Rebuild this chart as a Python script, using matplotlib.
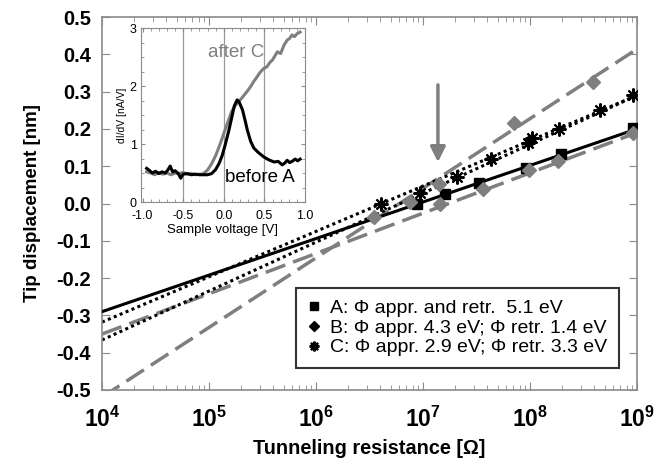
import numpy as np
import matplotlib.pyplot as plt
from matplotlib.lines import Line2D

plt.rcParams['font.family'] = ['Liberation Sans', 'DejaVu Sans']
plt.rcParams['mathtext.fontset'] = 'custom'
plt.rcParams['mathtext.rm'] = 'Liberation Sans:bold'
plt.rcParams['mathtext.it'] = 'Liberation Sans:bold'

# --- main panel data (log10 of resistance, displacement in nm) ---
a_logR = [6.94, 7.21, 7.52, 7.96, 8.29, 8.96]
a_disp = [0.0, 0.025, 0.055, 0.095, 0.133, 0.202]

b_retr_logR = [6.54, 6.88, 7.15, 7.85, 8.59]
b_retr_disp = [-0.036, 0.005, 0.052, 0.216, 0.326]
b_appr_logR = [7.16, 7.56, 7.99, 8.26, 8.96]
b_appr_disp = [0.0, 0.039, 0.09, 0.114, 0.19]

c_logR = [6.61, 6.97, 7.32, 7.64, 7.98, 8.02, 8.27, 8.65, 8.96]
c_disp = [0.0, 0.028, 0.071, 0.12, 0.162, 0.175, 0.2, 0.25, 0.29]

# fit lines, values at R = 1e4 and 1e9
fit_R = [1e4, 1e9]
fit_a = [-0.29, 0.20]
fit_b_retr = [-0.519, 0.414]
fit_b_appr = [-0.35, 0.19]
fit_c_retr = [-0.318, 0.29]
fit_c_appr = [-0.366, 0.29]

x_exponents = [4, 5, 6, 7, 8, 9]
y_ticks = [-0.5, -0.4, -0.3, -0.2, -0.1, 0.0, 0.1, 0.2, 0.3, 0.4, 0.5]

legend_labels = [
    "A: \u03a6 appr. and retr.  5.1 eV",
    "B: \u03a6 appr. 4.3 eV; \u03a6 retr. 1.4 eV",
    "C: \u03a6 appr. 2.9 eV; \u03a6 retr. 3.3 eV",
]

# --- inset data: dI/dV spectra ---
before_V = [-0.95, -0.92, -0.88, -0.84, -0.80, -0.76, -0.72, -0.69, -0.66, -0.63, -0.60,
            -0.56, -0.53, -0.50, -0.45, -0.40, -0.35, -0.30, -0.25, -0.20, -0.15, -0.10,
            -0.06, -0.02, 0.02, 0.06, 0.10, 0.13, 0.165, 0.19, 0.23, 0.26, 0.29, 0.33,
            0.37, 0.42, 0.49, 0.55, 0.62, 0.67, 0.72, 0.75, 0.78, 0.81, 0.84, 0.88, 0.91, 0.94]
before_I = [0.58, 0.55, 0.50, 0.53, 0.49, 0.52, 0.50, 0.55, 0.62, 0.52, 0.54,
            0.49, 0.41, 0.48, 0.49, 0.47, 0.48, 0.47, 0.47, 0.47, 0.49, 0.56,
            0.66, 0.80, 1.00, 1.22, 1.47, 1.66, 1.76, 1.72, 1.59, 1.42, 1.24, 1.05,
            0.93, 0.86, 0.78, 0.73, 0.69, 0.70, 0.64, 0.67, 0.72, 0.68, 0.70, 0.74, 0.71, 0.74]

after_V = [-0.95, -0.90, -0.85, -0.80, -0.75, -0.70, -0.65, -0.60, -0.55, -0.50, -0.45,
           -0.40, -0.35, -0.30, -0.26, -0.20, -0.15, -0.10, -0.05, 0.0, 0.05, 0.10, 0.15,
           0.185, 0.22, 0.26, 0.30, 0.33, 0.37, 0.41, 0.45, 0.49, 0.53, 0.57, 0.60, 0.63,
           0.66, 0.70, 0.74, 0.78, 0.81, 0.84, 0.87, 0.90, 0.94]
after_I = [0.52, 0.50, 0.47, 0.51, 0.48, 0.50, 0.47, 0.50, 0.49, 0.51, 0.48,
           0.49, 0.47, 0.48, 0.48, 0.55, 0.66, 0.80, 0.98, 1.18, 1.38, 1.57, 1.68,
           1.73, 1.79, 1.86, 1.93, 1.99, 2.08, 2.16, 2.24, 2.30, 2.33, 2.41, 2.45, 2.52,
           2.59, 2.56, 2.70, 2.79, 2.82, 2.88, 2.85, 2.90, 2.93]

arrow_R = 1.38e7
arrow_from = 0.318
arrow_to = 0.111

GRAY = "#7f7f7f"
SPINE = "#8a8a8a"

fig = plt.figure(figsize=(6.7, 4.66), dpi=100)
ax = fig.add_axes([0.1522, 0.1631, 0.7985, 0.8004])

dash = (0, (6, 2.4))
dot = (0, (1, 1.1))

ax.plot(fit_R, fit_a, color="black", lw=2.2, zorder=3)
ax.plot(fit_R, fit_b_retr, color=GRAY, lw=2.5, linestyle=dash, zorder=2)
ax.plot(fit_R, fit_b_appr, color=GRAY, lw=2.5, linestyle=dash, zorder=2)
ax.plot(fit_R, fit_c_retr, color="black", lw=2.2, linestyle=dot, zorder=2)
ax.plot(fit_R, fit_c_appr, color="black", lw=2.2, linestyle=dot, zorder=2)

ax.plot(10 ** np.array(a_logR), a_disp, "s", color="black", ms=7, zorder=4)
ax.plot(10 ** np.array(b_retr_logR), b_retr_disp, "D", color=GRAY, ms=7, zorder=4)
ax.plot(10 ** np.array(b_appr_logR), b_appr_disp, "D", color=GRAY, ms=7, zorder=4)
ax.plot(10 ** np.array(c_logR), c_disp, marker=(8, 2, 0), ls="none", color="black",
        ms=10, mew=1.5, zorder=4)

ax.annotate("", xy=(arrow_R, arrow_to), xytext=(arrow_R, arrow_from),
            arrowprops=dict(arrowstyle="-|>,head_length=0.9,head_width=0.45",
                            color=GRAY, lw=2.5, shrinkA=0, shrinkB=0))

ax.set_xscale("log")
ax.set_xlim(1e4, 1e9)
ax.set_ylim(-0.5, 0.5)
ax.set_yticks(y_ticks)
ax.set_yticklabels([f"{v:.1f}" for v in y_ticks], fontweight="bold")
ax.set_xticks([10.0 ** e for e in x_exponents])
ax.set_xticklabels([rf"$10^{{{e}}}$" for e in x_exponents])
ax.tick_params(which="both", direction="in", top=True, right=True, color=SPINE)
ax.tick_params(which="major", length=6)
ax.tick_params(which="minor", length=3.5)
ax.tick_params(axis="y", labelsize=14.5, pad=8)
ax.tick_params(axis="x", labelsize=16.5, pad=12)
for s in ax.spines.values():
    s.set_color(SPINE)
    s.set_linewidth(1.2)

ax.set_xlabel("Tunneling resistance [\u03a9]", fontsize=14.3, fontweight="bold", labelpad=5)
ax.set_ylabel("Tip displacement [nm]", fontsize=13.5, fontweight="bold", labelpad=11)

handles = [
    Line2D([], [], marker="s", ls="none", color="black", ms=6),
    Line2D([], [], marker="D", ls="none", color="black", ms=5.5),
    Line2D([], [], marker=(8, 2, 0), ls="none", color="black", ms=7, mew=1.6),
]
leg = ax.legend(handles, legend_labels, loc="lower right", bbox_to_anchor=(0.966, 0.059),
                fontsize=14, frameon=True, fancybox=False, handlelength=0.7,
                handletextpad=0.45, borderpad=0.6, labelspacing=0.1,
                borderaxespad=0)
leg.get_frame().set_edgecolor("black")
leg.get_frame().set_linewidth(1.5)

# --- inset ---
ins = fig.add_axes([0.2104, 0.5665, 0.2448, 0.3734])
for v in (-0.5, 0.0, 0.5):
    ins.axvline(v, color="#999999", lw=0.9, zorder=1)
ins.plot(after_V, after_I, color=GRAY, lw=2.2, zorder=2)
ins.plot(before_V, before_I, color="black", lw=2.2, zorder=3)
ins.text(-0.2, 2.57, "after C", color=GRAY, fontsize=13.5, va="center")
ins.text(0.02, 0.43, "before A", color="black", fontsize=13.5, va="center")
ins.set_xlim(-1.02, 1.0)
ins.set_ylim(0, 3)
ins.set_xticks([-1.0, -0.5, 0.0, 0.5, 1.0])
ins.set_xticklabels(["-1.0", "-0.5", "0.0", "0.5", "1.0"])
ins.set_yticks([0, 1, 2, 3])
ins.set_xticks(np.arange(-1.0, 1.01, 0.1), minor=True)
ins.set_yticks(np.arange(0, 3.01, 0.25), minor=True)
ins.tick_params(which="both", direction="in", top=True, right=True, color=SPINE,
                labelsize=9)
ins.tick_params(axis="x", pad=6)
ins.tick_params(axis="y", pad=3)
ins.tick_params(which="major", length=3)
ins.tick_params(which="minor", length=2)
ins.set_xlabel("Sample voltage [V]", fontsize=9.5, labelpad=1)
ins.set_ylabel("dI/dV [nA/V]", fontsize=7.5, labelpad=2)
for s in ins.spines.values():
    s.set_color(SPINE)

fig.savefig("out.png", dpi=100)
